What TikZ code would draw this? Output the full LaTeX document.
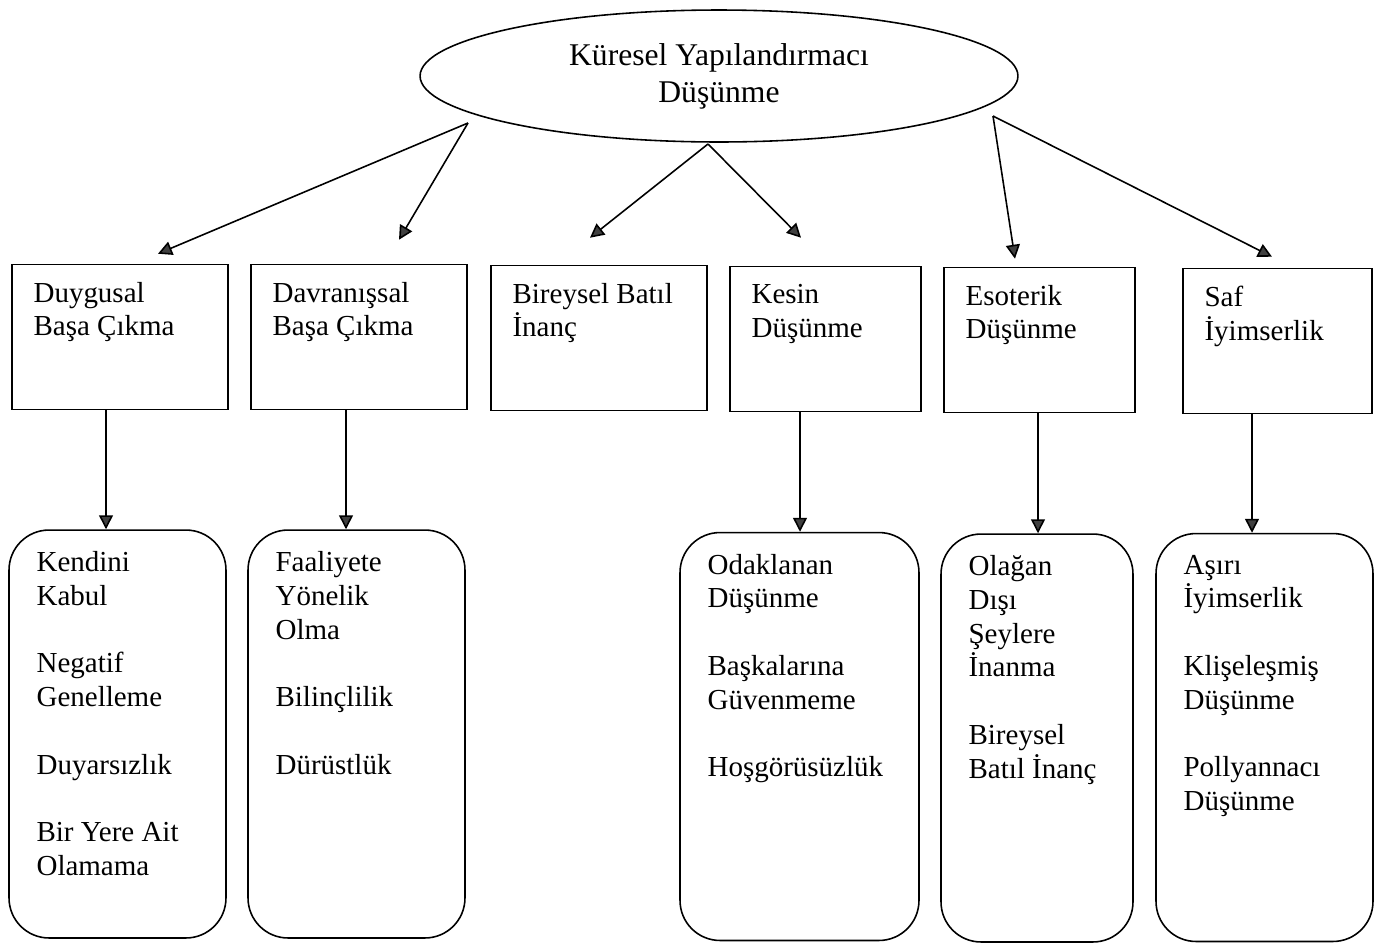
\documentclass[tikz,border=0pt]{standalone}
\usepackage{fontspec}
\setmainfont{Liberation Serif}
\usepackage{tikz}
\usetikzlibrary{arrows.meta,shapes.geometric}

\begin{document}
\begin{tikzpicture}[x=0.02cm,y=-0.02cm]

  %Styles for picture
  \tikzset
  {
  oval/.style={ellipse, draw, line width=0.9pt, minimum width=11.96cm, minimum height=2.64cm, align=center, font=\fontsize{18}{21}\selectfont},
  topbox/.style={rectangle, draw, line width=0.9pt, minimum height=2.9cm},
  listbox/.style={rectangle, draw, rounded corners=0.8cm, line width=0.9pt, minimum height=8.16cm},
  boxtext/.style={anchor=north west, inner sep=0pt, align=left, font=\fontsize{16.5}{19.2}\selectfont, execute at begin node=\strut},
  arr/.style={line width=0.9pt, -{Triangle[length=0.28cm, width=0.28cm, fill=black!75]}},
  }

  \useasboundingbox (0,0) rectangle (1383,944);

  %Nodes
  \node[oval] (e0) at (719,76) {Küresel Yapılandırmacı\\Düşünme};

  \node[topbox, minimum width=4.32cm] (b1) at (120,337) {};
  \node[topbox, minimum width=4.32cm] (b2) at (359,337) {};
  \node[topbox, minimum width=4.32cm] (b3) at (599,338) {};
  \node[topbox, minimum width=3.82cm] (b4) at (825.5,339) {};
  \node[topbox, minimum width=3.82cm] (b5) at (1039.5,340) {};
  \node[topbox, minimum width=3.78cm] (b6) at (1277.5,341) {};

  \node[boxtext] (t1) at ([shift={(22,18)}]b1.north west) {Duygusal\\Başa Çıkma};
  \node[boxtext] (t2) at ([shift={(22,18)}]b2.north west) {Davranışsal\\Başa Çıkma};
  \node[boxtext] (t3) at ([shift={(22,18)}]b3.north west) {Bireysel Batıl\\İnanç};
  \node[boxtext] (t4) at ([shift={(22,18)}]b4.north west) {Kesin\\Düşünme};
  \node[boxtext] (t5) at ([shift={(22,18)}]b5.north west) {Esoterik\\Düşünme};
  \node[boxtext] (t6) at ([shift={(22,18)}]b6.north west) {Saf\\İyimserlik};

  \node[listbox, minimum width=4.34cm] (r1) at (117.5,734) {};
  \node[listbox, minimum width=4.34cm] (r2) at (356.5,734) {};
  \node[listbox, minimum width=4.78cm] (r4) at (799.5,736.5) {};
  \node[listbox, minimum width=3.84cm] (r5) at (1037,738) {};
  \node[listbox, minimum width=4.34cm] (r6) at (1264.5,737.5) {};

  \node[boxtext] (s1) at ([shift={(28,22)}]r1.north west) {Kendini\\Kabul\\[19.2pt]Negatif\\Genelleme\\[19.2pt]Duyarsızlık\\[19.2pt]Bir Yere Ait\\Olamama};
  \node[boxtext] (s2) at ([shift={(28,22)}]r2.north west) {Faaliyete\\Yönelik\\Olma\\[19.2pt]Bilinçlilik\\[19.2pt]Dürüstlük};
  \node[boxtext] (s4) at ([shift={(28,22)}]r4.north west) {Odaklanan\\Düşünme\\[19.2pt]Başkalarına\\Güvenmeme\\[19.2pt]Hoşgörüsüzlük};
  \node[boxtext] (s5) at ([shift={(28,22)}]r5.north west) {Olağan\\Dışı\\Şeylere\\İnanma\\[19.2pt]Bireysel\\Batıl İnanç};
  \node[boxtext] (s6) at ([shift={(28,22)}]r6.north west) {Aşırı\\İyimserlik\\[19.2pt]Klişeleşmiş\\Düşünme\\[19.2pt]Pollyannacı\\Düşünme};

  \coordinate (pL) at (468,123);
  \coordinate (pM) at (708,144);
  \coordinate (pR) at (993,116);

  %Edges
  \draw[arr] (pL) -- ([shift={(38,-10)}]b1.north);
  \draw[arr] (pL) -- ([shift={(40,-24)}]b2.north);
  \draw[arr] (pM) -- ([shift={(-9,-27)}]b3.north);
  \draw[arr] (pM) -- ([shift={(-24.5,-28)}]b4.north);
  \draw[arr] (pR) -- ([shift={(-24.5,-8)}]b5.north);
  \draw[arr] (pR) -- ([shift={(-5.5,-11)}]b6.north);

  \draw[arr] ([xshift=-0.28cm]b1.south) -- ([xshift=-0.28cm]b1.south |- r1.north);
  \draw[arr] ([xshift=-0.26cm]b2.south) -- ([xshift=-0.26cm]b2.south |- r2.north);
  \draw[arr] ([xshift=-0.51cm]b4.south) -- ([xshift=-0.51cm]b4.south |- r4.north);
  \draw[arr] ([xshift=-0.03cm]b5.south) -- ([xshift=-0.03cm]b5.south |- r5.north);
  \draw[arr] ([xshift=-0.51cm]b6.south) -- ([xshift=-0.51cm]b6.south |- r6.north);
\end{tikzpicture}
\end{document}
